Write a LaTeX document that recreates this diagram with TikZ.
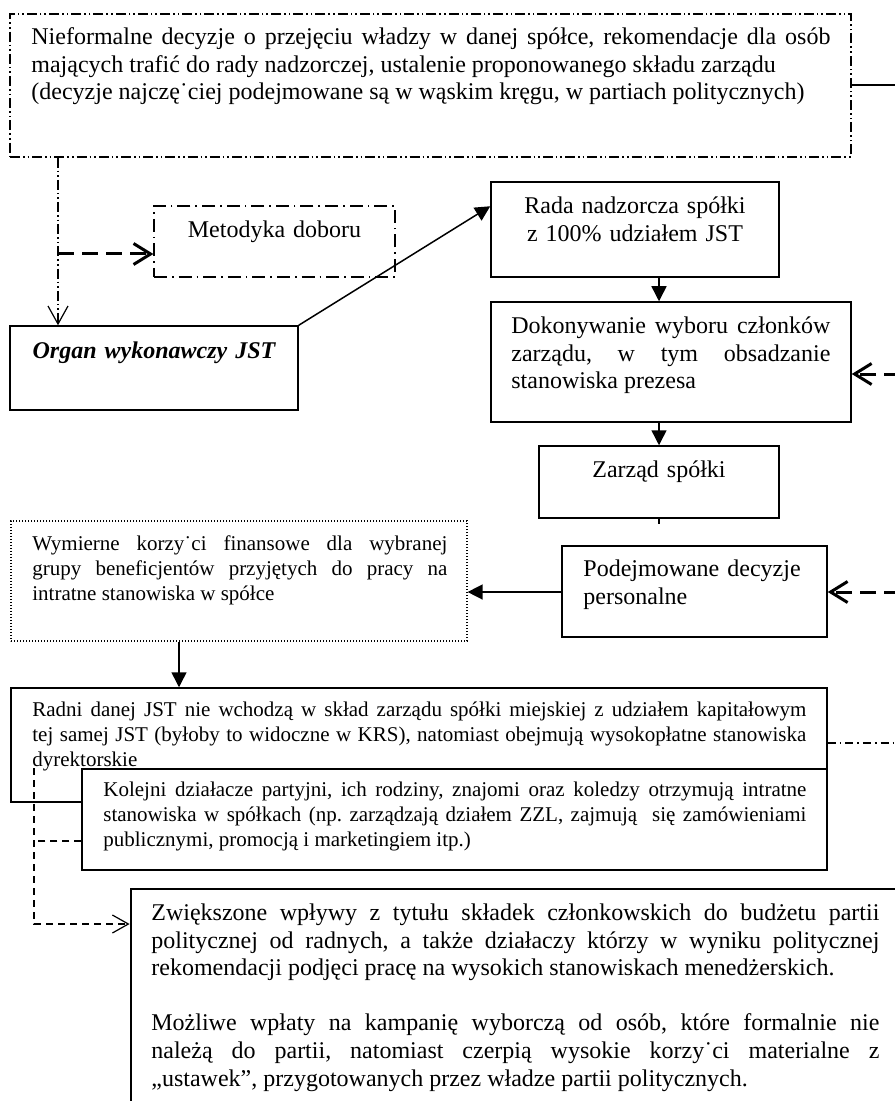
\documentclass[tikz,border=0pt]{standalone}
\usepackage{fontspec}
\setmainfont{Liberation Serif}
\usetikzlibrary{arrows.meta,fit}
\sloppy
\frenchspacing

\begin{document}
\begin{tikzpicture}[x=0.5pt, y=-0.5pt,
		ramka/.style={draw, line width=0.75pt, inner sep=0pt},
		ramkaKropki/.style={ramka, line width=0.6pt, dash pattern=on 0.6pt off 0.9pt},
		ramkaKreskaKropka/.style={ramka, line width=0.6pt, dash pattern=on 6.5pt off 2.5pt on 0.8pt off 2.5pt},
		ramkaDwieKropki/.style={ramka, line width=0.6pt, dash pattern=on 5pt off 1.5pt on 0.8pt off 1.5pt on 0.8pt off 1.5pt},
		tekst/.style={inner sep=0pt, anchor=base west, align=justify, font=\fontsize{12}{13.8}\selectfont},
		tekstMaly/.style={tekst, font=\fontsize{10.5}{12.4}\selectfont},
		tekstSrodek/.style={inner sep=0pt, anchor=base, align=center, text width=150pt, font=\fontsize{12}{13.8}\selectfont},
		strzalka/.style={line width=0.75pt, -{Triangle[length=7.5pt, width=7.5pt]}},
		przerywanaGruba/.style={line width=1.5pt, dash pattern=on 8pt off 4pt, -{Straight Barb[length=8.5pt, width=10.5pt]}},
		przerywanaCienka/.style={line width=0.6pt, dash pattern=on 3.5pt off 2.5pt}
	]
	\useasboundingbox (0,0) rectangle (894,1101);

	% ramki
	\node[ramkaDwieKropki, fit={(10,14) (851,157)}] (decyzje) {};
	\node[ramkaKreskaKropka, fit={(154,206) (395,277)}] (metodyka) {};
	\node[ramka, fit={(491,182) (779,277)}] (rada) {};
	\node[ramka, fit={(10,326) (298,410)}] (organ) {};
	\node[ramka, fit={(491,302) (851,422)}] (wybor) {};
	\node[ramka, fit={(539,446) (779,518)}] (zarzad) {};
	\node[ramka, fit={(562,546) (827,637)}] (personalne) {};
	\node[ramkaKropki, fit={(11,521) (467,641)}] (korzysci) {};
	\node[ramka, fit={(11,688) (827,802)}] (radni) {};
	\node[ramka, line width=1.4pt, fit={(131,889) (905,1120)}] (wplywy) {};

	% teksty
	\node[tekst, text width=399.5pt] (decyzjeTxt) at (31,44.5) {Nieformalne decyzje o przejęciu władzy w danej spółce, rekomendacje dla osób\linebreak mających trafić do rady nadzorczej, ustalenie proponowanego składu zarządu\\ (decyzje najczę˙ciej podejmowane są w wąskim kręgu, w partiach politycznych)};
	\node[tekstSrodek] (metodykaTxt) at (274.5,237.5) {Metodyka doboru};
	\node[tekstSrodek] (radaTxt) at (635,213.5) {Rada nadzorcza spółki\\ z 100\% udziałem JST};
	\node[tekstSrodek, font=\fontsize{12}{13.8}\selectfont\bfseries\itshape] (organTxt) at (154,358.5) {Organ wykonawczy JST};
	\node[tekst, text width=159.5pt] (wyborTxt) at (511,333.5) {Dokonywanie wyboru członków\linebreak zarządu, w tym obsadzanie\linebreak stanowiska prezesa};
	\node[tekstSrodek] (zarzadTxt) at (659,477.5) {Zarząd spółki};
	\node[tekst, align=left, text width=120pt] (personalneTxt) at (583,576.5) {Podejmowane decyzje\\ personalne};
	\node[tekstMaly, text width=207.5pt] (korzysciTxt) at (32,550.7) {Wymierne korzy˙ci finansowe dla wybranej\linebreak grupy beneficjentów przyjętych do pracy na\linebreak intratne stanowiska w spółce};
	\node[tekstMaly, text width=387pt] (radniTxt) at (32,716.7) {Radni danej JST nie wchodzą w skład zarządu spółki miejskiej z udziałem kapitałowym\linebreak tej samej JST (byłoby to widoczne w KRS), natomiast obejmują wysokopłatne stanowiska\linebreak dyrektorskie};

	% ramka nachodząca na radnych
	\node[ramka, fill=white, fit={(82,769) (827,870)}] (dzialacze) {};
	\node[tekstMaly, text width=351.5pt] (dzialaczeTxt) at (103,796.7) {Kolejni działacze partyjni, ich rodziny, znajomi oraz koledzy otrzymują intratne\linebreak stanowiska w spółkach (np. zarządzają działem ZZL, zajmują\ \ się zamówieniami\linebreak publicznymi, promocją i marketingiem itp.)};
	\node[tekst, text width=364pt] (wplywyTxt) at (151,920.5) {Zwiększone wpływy z tytułu składek członkowskich do budżetu partii\linebreak politycznej od radnych, a także działaczy którzy w wyniku politycznej\linebreak rekomendacji podjęci pracę na wysokich stanowiskach menedżerskich.\\[13.8pt] Możliwe wpłaty na kampanię wyborczą od osób, które formalnie nie\linebreak należą do partii, natomiast czerpią wysokie korzy˙ci materialne z\linebreak „ustawek”, przygotowanych przez władze partii politycznych.};

	% punkty pomocnicze
	\coordinate (rozwidlenie) at (58,254);
	\coordinate (zDecyzji) at (900,85);
	\coordinate (doWyboru) at (900,374);
	\coordinate (doDecyzji) at (900,592);
	\coordinate (zRadnych) at (900,743);
	\coordinate (odRadnych) at (34,768);

	% strzałki
	\draw[line width=0.6pt, dash pattern=on 5pt off 1.5pt on 0.8pt off 1.5pt on 0.8pt off 1.5pt, -{Straight Barb[length=9pt, width=10pt]}] (decyzje.south -| rozwidlenie) -- (organ.north -| rozwidlenie);
	\draw[przerywanaGruba] (rozwidlenie) -- (rozwidlenie -| metodyka.west);
	\draw[strzalka] (organ.north east) -- ([yshift=-12.5pt]rada.north west);
	\draw[strzalka] (rada.south -| zarzad.north) -- (wybor.north -| zarzad.north);
	\draw[strzalka] (wybor.south -| zarzad.north) -- (zarzad.north);
	\draw[line width=0.75pt] (zarzad.south) -- ++(0,5);
	\draw[strzalka] (personalne.west |- doDecyzji) -- (doDecyzji -| korzysci.east);
	\draw[strzalka] ([xshift=-30pt]korzysci.south) -- ([xshift=-30pt]korzysci.south |- radni.north);
	\draw[line width=0.75pt] (decyzje.east |- zDecyzji) -- (zDecyzji);
	\draw[przerywanaGruba] (doWyboru) -- (doWyboru -| wybor.east);
	\draw[przerywanaGruba] (doDecyzji) -- (doDecyzji -| personalne.east);
	\draw[line width=0.6pt, dash pattern=on 4pt off 2pt on 0.8pt off 2pt] (radni.east |- zRadnych) -- (zRadnych);
	\draw[przerywanaCienka] (dzialacze.west |- 0,841) -- (odRadnych |- 0,841);
	\draw[przerywanaCienka, -{Straight Barb[length=8pt, width=9pt]}] (odRadnych) |- (wplywy.west |- 0,924);
\end{tikzpicture}
\end{document}
